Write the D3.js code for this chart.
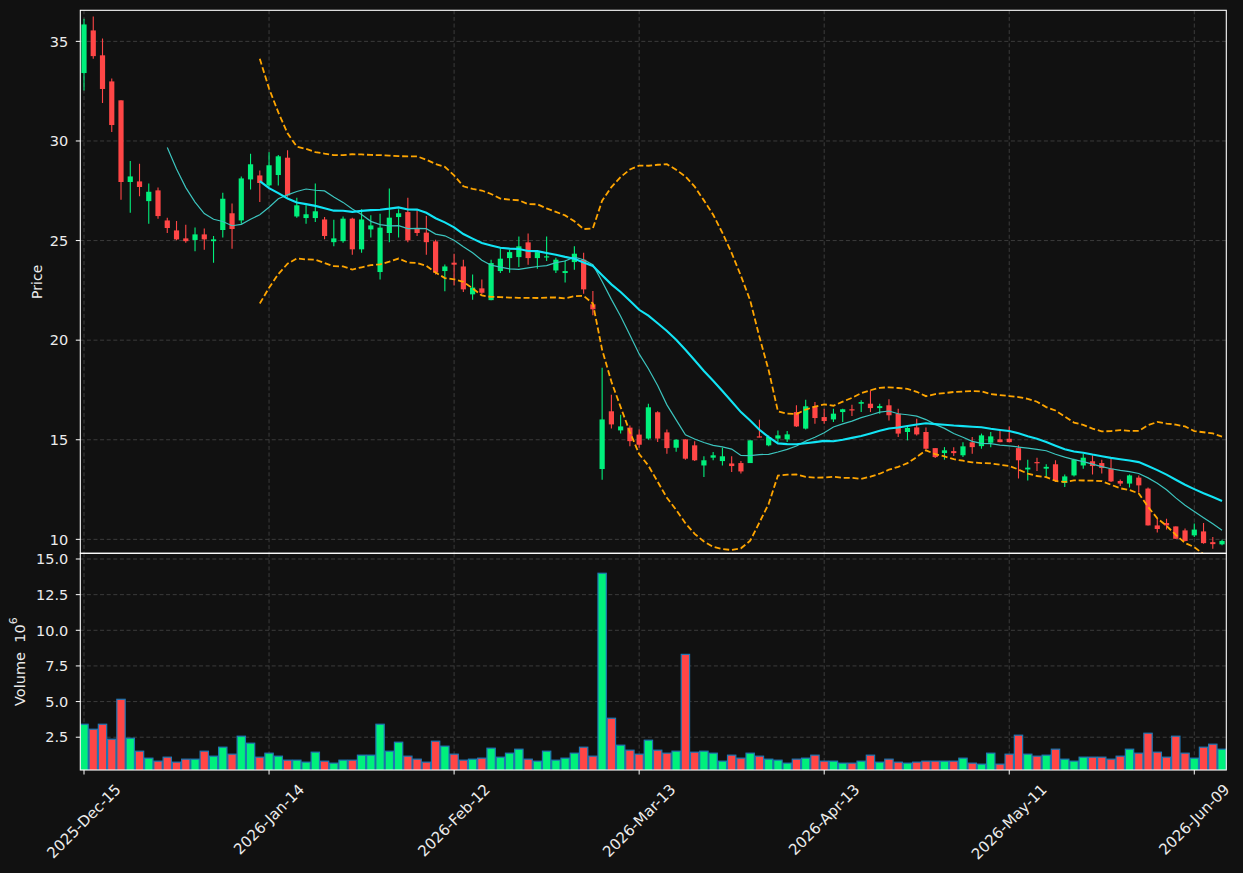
<!DOCTYPE html>
<html><head><meta charset="utf-8">
<script src="https://cdn.jsdelivr.net/npm/d3@7"></script>
<style>
body{margin:0;background:#111111;}
svg{display:block;}
text{font-family:"DejaVu Sans",sans-serif;}
</style>
</head><body>
<svg id="chart" width="1243" height="873"></svg>
<script>
// ---------------- data ----------------
const openP = [33.41,35.55,34.30,32.99,32.04,27.94,27.97,26.98,27.52,26.01,
25.51,25.11,25.03,25.31,24.97,25.53,26.37,26.01,28.07,28.27,
27.77,28.29,29.16,26.21,26.13,26.13,26.06,24.92,24.97,26.10,
24.56,25.56,23.42,25.38,26.18,26.43,25.63,25.40,24.96,23.47,
23.89,23.70,22.30,22.60,22.01,23.47,24.12,24.17,24.91,24.12,
24.16,23.50,23.37,23.92,24.04,21.80,13.53,16.43,15.47,15.61,
15.26,15.06,16.38,15.37,14.60,15.02,14.72,13.71,14.10,13.93,
13.81,13.83,13.83,15.17,14.72,15.06,15.02,16.39,15.56,16.68,
16.14,16.02,16.39,16.53,16.81,16.81,16.59,16.73,16.31,15.39,
15.62,15.39,14.58,14.33,14.43,14.22,14.87,14.68,14.85,15.02,
15.05,14.58,13.51,13.88,13.55,13.77,12.83,13.21,13.71,13.92,
13.83,13.55,12.93,12.80,13.10,12.55,10.70,10.82,10.65,10.45,
10.20,10.40,9.86,9.75];
const highP = [36.14,36.25,35.14,33.13,32.04,29.00,28.86,27.86,27.66,26.15,
25.98,25.80,25.65,25.60,25.23,27.40,26.86,28.22,29.36,28.52,
29.44,29.30,29.53,27.15,26.77,27.86,26.18,26.05,26.21,26.15,
26.57,26.27,26.35,27.61,26.57,27.15,26.52,26.23,25.04,23.80,
24.34,24.04,23.30,23.05,24.04,24.62,24.54,25.21,25.35,24.51,
25.21,24.14,24.01,24.72,24.39,22.47,18.62,17.26,16.26,15.72,
15.51,16.81,16.43,15.51,15.03,15.02,14.93,14.17,14.38,14.60,
14.17,13.93,14.97,16.01,15.22,15.47,15.44,16.73,17.01,16.89,
16.56,16.56,16.56,16.76,16.98,17.48,16.81,17.03,16.56,15.72,
16.06,15.61,14.58,14.63,14.63,14.88,15.14,15.31,15.39,15.47,
15.67,14.72,14.00,14.10,13.77,13.97,13.26,14.05,14.30,14.22,
14.00,14.05,13.01,13.25,13.21,12.60,11.04,11.04,10.65,10.54,
10.79,10.82,10.12,9.98];
const lowP = [32.54,34.13,31.90,30.45,27.05,26.40,27.22,25.85,26.10,25.38,
25.01,24.89,24.46,24.54,23.89,25.15,24.59,25.85,27.56,26.93,
27.70,27.77,27.20,26.15,25.85,25.93,25.06,24.72,24.89,24.29,
24.39,25.15,23.04,24.92,25.15,24.92,25.23,24.29,23.30,22.45,
22.75,22.42,22.03,22.30,22.00,23.37,23.39,23.67,23.79,23.59,
23.97,23.37,22.89,23.54,22.33,21.25,12.99,15.56,15.31,14.67,
14.60,15.00,14.89,14.30,14.40,14.00,13.93,13.13,13.97,13.71,
13.38,13.30,13.83,15.12,14.67,14.89,14.89,15.64,15.51,15.81,
15.81,15.89,15.89,16.19,16.39,16.39,16.31,15.97,15.14,14.97,
15.22,14.52,14.08,14.00,14.18,14.13,14.30,14.55,14.63,14.88,
14.88,13.05,12.96,13.43,13.10,12.88,12.63,13.16,13.55,13.26,
13.30,12.88,12.68,12.60,12.37,10.70,10.34,10.49,10.03,9.90,
10.12,9.78,9.53,9.70];
const closeP = [35.85,34.26,32.61,30.80,27.94,28.22,27.69,27.45,26.23,25.63,
25.06,24.97,25.31,25.06,25.06,27.10,25.58,28.12,28.83,27.89,
28.78,29.23,27.27,26.77,26.32,26.47,25.23,25.11,26.10,24.56,
26.06,25.76,25.65,26.15,26.37,25.01,25.38,24.92,23.39,23.70,
23.79,22.55,22.64,22.38,23.87,24.09,24.42,24.71,24.12,24.42,
24.21,24.04,23.47,24.34,22.55,21.55,16.02,15.77,15.67,14.93,
14.75,16.63,15.06,14.58,15.00,14.05,13.97,13.97,14.22,14.17,
13.68,13.41,14.97,15.12,15.14,15.22,15.27,15.67,16.68,16.09,
15.94,16.31,16.53,16.48,16.89,16.59,16.69,16.23,15.31,15.59,
15.27,14.55,14.13,14.47,14.33,14.67,14.63,15.22,15.17,14.88,
14.88,13.97,13.60,13.83,13.64,12.93,13.16,14.00,14.10,13.68,
13.58,12.91,12.80,13.21,12.71,10.70,10.52,10.70,10.03,9.92,
10.49,9.81,9.76,9.92];
const volumeM = [3.41,3.06,3.41,2.36,5.16,2.43,1.52,1.03,0.82,1.10,
0.75,0.96,0.96,1.52,1.17,1.80,1.31,2.57,2.08,1.10,
1.38,1.17,0.89,0.89,0.75,1.45,0.82,0.68,0.89,0.89,
1.24,1.24,3.41,1.52,2.15,1.17,0.96,0.75,2.22,1.87,
1.31,0.89,0.96,1.03,1.73,1.10,1.38,1.66,0.96,0.82,
1.52,0.89,1.03,1.38,1.80,1.17,14.00,3.83,1.94,1.59,
1.31,2.29,1.59,1.38,1.52,8.31,1.45,1.52,1.38,0.82,
1.24,1.03,1.38,1.17,0.96,0.89,0.68,0.96,1.03,1.24,
0.82,0.82,0.68,0.68,0.82,1.24,0.75,0.96,0.75,0.68,
0.75,0.82,0.82,0.82,0.82,1.03,0.68,0.61,1.38,0.61,
1.31,2.64,1.31,1.17,1.24,1.66,0.96,0.82,1.10,1.10,
1.10,0.96,1.17,1.66,1.38,2.78,1.45,1.10,2.57,1.38,
1.03,1.80,2.01,1.66];
const tickIdx = [0,20,40,60,80,100,120];
const tickLabels = ["2025-Dec-15","2026-Jan-14","2026-Feb-12","2026-Mar-13","2026-Apr-13","2026-May-11","2026-Jun-09"];
const priceTicks = [10,15,20,25,30,35];
const volTicks = [2.5,5.0,7.5,10.0,12.5,15.0];

// ---------------- derived indicators (from closes) ----------------
function rolling(n, fn){
  return closeP.map((c,i)=> i < n-1 ? null : fn(closeP.slice(i-n+1,i+1)));
}
const ma10 = rolling(10, a=>d3.mean(a));
const ma20 = rolling(20, a=>d3.mean(a));
const sd20 = rolling(20, a=>{const m=d3.mean(a);return Math.sqrt(d3.mean(a,v=>(v-m)*(v-m)));});
const bbUp = ma20.map((m,i)=> m==null?null:m+2*sd20[i]);
const bbLo = ma20.map((m,i)=> m==null?null:m-2*sd20[i]);

// ---------------- layout ----------------
const L=80.3, R=1226.3, T=10.3, PB=553.3, VB=770;
const UP="#00f07c", DN="#ff4646", TXT="#ececec", GRID="#414141";
const N = closeP.length;
const x = d3.scaleLinear().domain([-0.4,123.46]).range([L,R]);
const y = d3.scaleLinear().domain([9.3,36.56]).range([PB,T]);
const yv = d3.scaleLinear().domain([0.2,15.4]).range([VB,PB]);
const step = x(1)-x(0);

const svg = d3.select("#chart");
svg.append("rect").attr("width",1243).attr("height",873).attr("fill","#111111");
const defs = svg.append("defs");
defs.append("clipPath").attr("id","cp").append("rect").attr("x",L).attr("y",T).attr("width",R-L).attr("height",PB-T);
defs.append("clipPath").attr("id","cv").append("rect").attr("x",L).attr("y",PB).attr("width",R-L).attr("height",VB-PB);

// grids
const grid = svg.append("g").attr("stroke",GRID).attr("stroke-width",0.9).attr("stroke-dasharray","4,2.6");
priceTicks.forEach(t=>grid.append("line").attr("x1",L).attr("x2",R).attr("y1",y(t)).attr("y2",y(t)));
volTicks.forEach(t=>grid.append("line").attr("x1",L).attr("x2",R).attr("y1",yv(t)).attr("y2",yv(t)));
tickIdx.forEach(t=>{
  grid.append("line").attr("x1",x(t)).attr("x2",x(t)).attr("y1",T).attr("y2",PB);
  grid.append("line").attr("x1",x(t)).attr("x2",x(t)).attr("y1",PB).attr("y2",VB);
});

// candles
const idx = d3.range(N);
const pc = svg.append("g").attr("clip-path","url(#cp)");
const col = i => closeP[i] >= openP[i] ? UP : DN;
pc.selectAll("line.wick").data(idx).join("line").attr("class","wick")
  .attr("x1",i=>x(i)).attr("x2",i=>x(i))
  .attr("y1",i=>y(highP[i])).attr("y2",i=>y(lowP[i]))
  .attr("stroke",col).attr("stroke-width",1.1);
pc.selectAll("rect.body").data(idx).join("rect").attr("class","body")
  .attr("x",i=>x(i)-2.6).attr("width",5.2)
  .attr("y",i=>y(Math.max(openP[i],closeP[i])))
  .attr("height",i=>Math.max(1.2, Math.abs(y(openP[i])-y(closeP[i]))))
  .attr("fill",col);

// lines
const line = d3.line().defined(d=>d!=null).x((d,i)=>x(i)).y(d=>y(d));
pc.append("path").attr("d",line(ma10)).attr("fill","none").attr("stroke","#3cc4be").attr("stroke-width",1.2);
pc.append("path").attr("d",line(ma20)).attr("fill","none").attr("stroke","#12e4f5").attr("stroke-width",2.1);
[bbUp,bbLo].forEach(b=>pc.append("path").attr("d",line(b)).attr("fill","none")
  .attr("stroke","#ffa500").attr("stroke-width",1.8).attr("stroke-dasharray","6,2.8"));

// volume
const vc = svg.append("g").attr("clip-path","url(#cv)");
const bw = step*0.9;
vc.selectAll("rect").data(idx).join("rect")
  .attr("x",i=>x(i)-bw/2).attr("width",bw)
  .attr("y",i=>yv(volumeM[i])).attr("height",i=>VB-yv(volumeM[i])+2)
  .attr("fill",col).attr("stroke","#1f77b4").attr("stroke-width",1.2);

// frames
[[T,PB],[PB,VB]].forEach(([a,b])=>svg.append("rect").attr("x",L).attr("y",a).attr("width",R-L).attr("height",b-a)
  .attr("fill","none").attr("stroke","#ffffff").attr("stroke-width",1.1));

// y ticks
const FS=14.5;
priceTicks.forEach(t=>{
  svg.append("line").attr("x1",L-4.5).attr("x2",L).attr("y1",y(t)).attr("y2",y(t)).attr("stroke","#ffffff");
  svg.append("text").attr("x",L-12).attr("y",y(t)).attr("dy","0.36em").attr("text-anchor","end")
    .attr("font-size",FS).attr("fill",TXT).text(d3.format("d")(t));
});
volTicks.forEach(t=>{
  svg.append("line").attr("x1",L-4.5).attr("x2",L).attr("y1",yv(t)).attr("y2",yv(t)).attr("stroke","#ffffff");
  svg.append("text").attr("x",L-12).attr("y",yv(t)).attr("dy","0.36em").attr("text-anchor","end")
    .attr("font-size",FS).attr("fill",TXT).text(d3.format(".1f")(t));
});
// x ticks
tickIdx.forEach((t,k)=>{
  svg.append("line").attr("x1",x(t)).attr("x2",x(t)).attr("y1",VB).attr("y2",VB+4.5).attr("stroke","#ffffff");
  const tx = svg.append("text").attr("text-anchor","middle").attr("dominant-baseline","central")
    .attr("font-size",15).attr("fill",TXT).text(tickLabels[k]);
  const len = tx.node().getComputedTextLength();
  const cy = VB + 12 + (len + 14)*0.7071/2;
  tx.attr("transform",`translate(${x(t)},${cy}) rotate(-45)`);
});
// axis labels
svg.append("text").attr("transform",`translate(37,${(T+PB)/2}) rotate(-90)`).attr("text-anchor","middle")
  .attr("dominant-baseline","central").attr("font-size",14).attr("fill",TXT).text("Price");
const vl = svg.append("text").attr("transform",`translate(20,${(PB+VB)/2}) rotate(-90)`).attr("text-anchor","middle")
  .attr("dominant-baseline","central").attr("font-size",14.5).attr("fill",TXT).style("white-space","pre");
vl.append("tspan").style("white-space","pre").text("Volume  10");
vl.append("tspan").attr("dy",-7).attr("font-size",11).text("6");
</script>
</body></html>
